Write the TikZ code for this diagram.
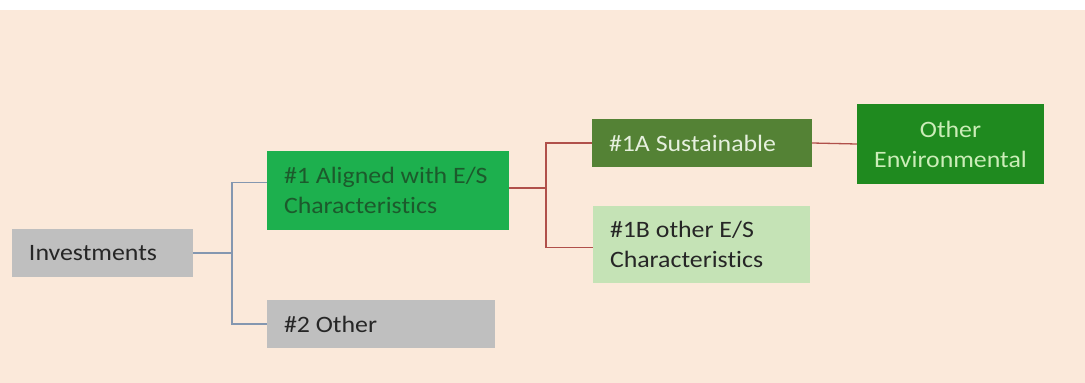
\documentclass[tikz,border=0pt]{standalone}
\usepackage{fontspec}
\setmainfont{Carlito}[FakeStretch=1.1, Ligatures={NoCommon}]
\definecolor{bgc}{HTML}{FBE9DA}
\definecolor{greyc}{HTML}{BFBFBF}
\definecolor{greenc}{HTML}{1DB04E}
\definecolor{olivec}{HTML}{548235}
\definecolor{dkgreenc}{HTML}{1F8A1F}
\definecolor{ltgreenc}{HTML}{C5E3B6}
\definecolor{txtdkgreen}{HTML}{1C5A2C}
\definecolor{txtlight}{HTML}{E6F0DE}
\definecolor{txtoe}{HTML}{CBEDB8}
\definecolor{txtdark}{HTML}{262626}
\definecolor{bluec}{HTML}{8497B0}
\definecolor{redc}{HTML}{B0504A}
\newcommand{\ind}{\hspace*{17pt}}
\begin{document}
\begin{tikzpicture}[x=1pt,y=-1pt,
  every node/.style={font=\fontsize{23.5}{30}\selectfont},
  boxs/.style={draw=none, inner xsep=0pt, inner ysep=0pt, align=flush left,
               text width={#1}, minimum width={#1}},
  gbox/.style={boxs={#1}, fill=greyc, text=txtdark},
  bline/.style={draw=bluec, line width=1.3pt},
  rline/.style={draw=redc, line width=1.3pt}]
\useasboundingbox (0,0) rectangle (1085,383);
\fill[white] (-3,-3) rectangle (1088,10);
\fill[bgc] (-3,10) rectangle (1088,388);
% nodes
\node[gbox=181pt, minimum height=48pt] (inv) at (102.5,253) {\ind Investments};
\node[boxs=242pt, fill=greenc, text=txtdkgreen, minimum height=79pt] (a1) at (388,190.5) {\ind\#1 Aligned with E/S\\\ind Characteristics};
\node[gbox=228pt, minimum height=48pt] (o2) at (381,324) {\ind\#2 Other};
\node[boxs=220pt, fill=olivec, text=txtlight, minimum height=48pt] (s1a) at (702,143) {\ind\#1A Sustainable};
\node[boxs=217pt, fill=ltgreenc, text=txtdark, minimum height=77pt] (s1b) at (701.5,244.5) {\ind\#1B other E/S\\\ind Characteristics};
\node[boxs=187pt, align=flush center, fill=dkgreenc, text=txtoe, minimum height=80pt] (oe) at (950.5,144) {Other\\Environmental};
% connectors
\coordinate (bj) at (232,253);
\coordinate (rj) at (546,188);
\draw[bline] (inv.east) -- (bj);
\draw[bline] (bj) |- ([yshift=8pt]a1.west);
\draw[bline] (bj) |- (o2.west);
\draw[rline] ([yshift=2.5pt]a1.east) -- (rj);
\draw[rline] (rj) |- (s1a.west);
\draw[rline] (rj) |- ([yshift=-3pt]s1b.west);
\draw[rline] (s1a.east) -- (oe.west);
\end{tikzpicture}
\end{document}
